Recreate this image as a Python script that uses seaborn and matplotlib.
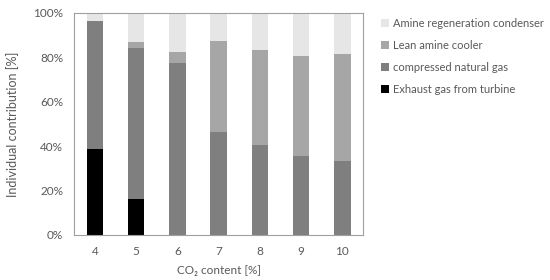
import matplotlib
matplotlib.use("Agg")
import matplotlib.pyplot as plt
import seaborn as sns
import numpy as np
import pandas as pd

categories = ["4", "5", "6", "7", "8", "9", "10"]
exhaust = [38.7, 16.1, 0, 0, 0, 0, 0]
compressed = [57.6, 68.0, 77.3, 46.5, 40.4, 35.7, 33.3]
lean = [0, 2.7, 5.0, 40.7, 42.9, 45.1, 48.1]
amine = [3.7, 13.2, 17.7, 12.8, 16.7, 19.2, 18.6]

series = ["Amine regeneration condenser", "Lean amine cooler",
          "compressed natural gas", "Exhaust gas from turbine"]
colors = ["#e6e6e6", "#a6a6a6", "#7f7f7f", "#000000"]

sns.set_style("white")
plt.rcParams['font.family'] = ['Lato', 'DejaVu Sans']

layers = [exhaust, compressed, lean, amine]
cum = np.cumsum(np.array(layers), axis=0)
df = pd.DataFrame({"cat": categories})

fig = plt.figure(figsize=(5.5, 2.8), dpi=100)
ax = fig.add_axes([0.135, 0.161, 0.525, 0.793])

order = [3, 2, 1, 0]
col_for_layer = {0: colors[3], 1: colors[2], 2: colors[1], 3: colors[0]}
for i in order:
    d = df.copy()
    d["v"] = cum[i]
    sns.barplot(data=d, x="cat", y="v", color=col_for_layer[i], width=0.4,
                saturation=1, ax=ax, linewidth=0)

ax.set_ylim(0, 100)
ax.set_xlim(-0.5, 6.5)
ax.set_yticks([0, 20, 40, 60, 80, 100])
ax.set_yticklabels([f"{v}%" for v in range(0, 101, 20)])
tc = "#595959"
ax.tick_params(axis='both', colors=tc, labelsize=8.5, length=0, pad=8)
ax.set_xlabel("CO₂ content [%]", color=tc, fontsize=8.5, labelpad=6)
ax.set_ylabel("Individual contribution [%]", color=tc, fontsize=9, labelpad=10)
for s in ax.spines.values():
    s.set_color("#a0a0a0")
    s.set_linewidth(0.8)

from matplotlib.patches import Patch
handles = [Patch(facecolor=c, edgecolor='none') for c in colors]
leg = fig.legend(handles, series, loc="upper left", bbox_to_anchor=(0.685, 0.952),
                 frameon=False, fontsize=8, handlelength=0.7, handleheight=0.7,
                 handletextpad=0.4, labelspacing=0.98, borderaxespad=0)
for t in leg.get_texts():
    t.set_color(tc)

fig.savefig("out.png", dpi=100)
